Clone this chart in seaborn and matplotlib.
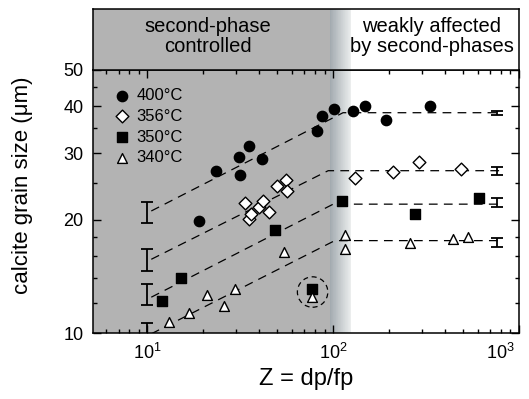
import matplotlib
matplotlib.use('Agg')
import matplotlib.pyplot as plt
import matplotlib.transforms as mtransforms
import seaborn as sns
import numpy as np
from matplotlib.ticker import FixedLocator, FuncFormatter, NullFormatter, LogLocator

# data (Z = dp/fp, grain size in micron)
z_400 = [19.0, 23.3, 31.3, 31.7, 35.2, 41.2, 81.4, 87.3, 101.6, 127.9, 147.7, 191.9, 331.0]
d_400 = [19.9, 27.0, 29.4, 26.3, 31.4, 29.0, 34.4, 37.8, 39.5, 38.9, 40.2, 36.9, 40.2]

z_356 = [33.6, 35.3, 36.2, 39.7, 41.7, 44.9, 49.8, 55.6, 56.4, 130.6, 209.4, 290.8, 489.5]
d_356 = [22.2, 20.1, 20.7, 21.6, 22.4, 21.0, 24.6, 25.5, 23.9, 25.8, 26.8, 28.4, 27.3]

z_350 = [12.0, 15.1, 48.4, 77.4, 111.7, 276.7, 611.0]
d_350 = [12.2, 14.0, 18.8, 13.1, 22.4, 20.7, 22.8]

z_340 = [13.0, 16.8, 21.0, 26.0, 29.8, 54.7, 77.4, 115.5, 115.5, 258.8, 443.6, 531.7]
d_340 = [10.7, 11.3, 12.6, 11.8, 13.1, 16.4, 12.5, 18.2, 16.7, 17.3, 17.8, 18.0]

labels = ['400°C', '356°C', '350°C', '340°C']

# dashed fits: start, knee, end of the plateau
fit_start_z = 10.5
fit_end_z = 800
fit_start_d = [21.1, 15.7, 12.45, 9.95]
fit_knee_z = [113, 94, 100, 102]
fit_plateau_d = [38.5, 27.0, 22.0, 17.6]

# error bars at Z = 10 and at the plateau end
err_left_z = 10
err_left_d = [20.95, 15.65, 12.7, 9.9]
err_left_e = [1.35, 1.05, 0.8, 0.75]
err_right_z = 760
err_right_d = [38.4, 26.95, 22.2, 17.4]
err_right_e = [0.5, 0.65, 0.6, 0.45]

# circled outlier
circle_z = [77.5]
circle_d = [12.85]

# zones
zone_gray_end = 96
zone_white_start = 125

sns.set_style("ticks")
plt.rcParams['font.family'] = ['Liberation Sans', 'DejaVu Sans']
plt.rcParams['mathtext.fontset'] = 'custom'
plt.rcParams['mathtext.rm'] = 'Liberation Sans'
for key in ['text.color', 'axes.labelcolor', 'xtick.color', 'ytick.color']:
    plt.rcParams[key] = 'black'

W, H = 529, 399
fig = plt.figure(figsize=(W / 100, H / 100), dpi=100)
left, right, top, bottom = 93, 519, 70, 333
ax = fig.add_axes([left / W, (H - bottom) / H, (right - left) / W, (bottom - top) / H])
hdr = fig.add_axes([left / W, (H - top) / H, (right - left) / W, (top - 9) / H])

xlim = (5.1, 1000)
gray = '#b3b3b3'
c0 = np.array([0.64, 0.67, 0.69])
c1 = np.array([0.92, 0.93, 0.93])
edges = np.geomspace(zone_gray_end, zone_white_start, 31)


def shade(a):
    a.set_xscale('log')
    a.set_xlim(*xlim)
    a.axvspan(xlim[0], zone_gray_end, color=gray, lw=0, zorder=0)
    for k in range(len(edges) - 1):
        t = k / (len(edges) - 2)
        a.axvspan(edges[k], edges[k + 1] * 1.001, color=c0 + (c1 - c0) * t, lw=0, zorder=0)
    for s in a.spines.values():
        s.set_color('black')
        s.set_linewidth(1.1)


shade(hdr)
hdr.set_ylim(0, 1)
hdr.set_xticks([])
hdr.set_yticks([])
hdr.minorticks_off()
hdr.text(0.27, 0.55, 'second-phase\ncontrolled', transform=hdr.transAxes,
         ha='center', va='center', fontsize=14.5, linespacing=1.05)
hdr.text(0.795, 0.55, 'weakly affected\nby second-phases', transform=hdr.transAxes,
         ha='center', va='center', fontsize=14.5, linespacing=1.05)

shade(ax)
ax.set_yscale('log')
ax.set_ylim(10, 50)

# fitted dashed lines
for i in range(4):
    ax.plot([fit_start_z, fit_knee_z[i], fit_end_z],
            [fit_start_d[i], fit_plateau_d[i], fit_plateau_d[i]],
            ls=(0, (7, 5)), color='black', lw=0.9, zorder=2)

ax.errorbar([err_left_z] * 4, err_left_d, yerr=err_left_e, fmt='none',
            ecolor='black', elinewidth=1.3, capsize=4.5, capthick=1.3, zorder=3)
ax.errorbar([err_right_z] * 4, err_right_d, yerr=err_right_e, fmt='none',
            ecolor='black', elinewidth=1.3, capsize=4.5, capthick=1.3, zorder=3)

series = [
    (z_400, d_400, 'o', 'black', 55),
    (z_356, d_356, 'D', 'white', 42),
    (z_350, d_350, 's', 'black', 50),
    (z_340, d_340, '^', 'white', 50),
]
for (z, d, mk, face, size), lab in zip(series, labels):
    sns.scatterplot(x=z, y=d, marker=mk, color=face, edgecolor='black',
                    linewidth=1.0, s=size, label=lab, ax=ax, zorder=4)

ax.scatter(circle_z, circle_d, s=480, facecolors='none', edgecolors='black',
           linewidths=0.9, linestyle=(0, (4, 3)), zorder=3)

leg = ax.legend(loc='upper left', bbox_to_anchor=(0.02, 0.97), frameon=False,
                fontsize=12, handletextpad=0.3, labelspacing=0.35,
                handlelength=1.2, borderaxespad=0.2)

# ticks
ax.xaxis.set_major_locator(FixedLocator([10, 100, 1000]))
ax.xaxis.set_major_formatter(FuncFormatter(lambda v, p: r'$\mathrm{10^{%d}}$' % round(np.log10(v))))
ax.xaxis.set_minor_locator(LogLocator(base=10, subs=np.arange(2, 10)))
ax.xaxis.set_minor_formatter(NullFormatter())
ax.yaxis.set_major_locator(FixedLocator([10, 20, 30, 40, 50]))
ax.yaxis.set_major_formatter(FuncFormatter(lambda v, p: '%d' % v))
ax.yaxis.set_minor_locator(FixedLocator([12, 14, 16, 18, 25, 35, 45]))
ax.yaxis.set_minor_formatter(NullFormatter())
ax.tick_params(which='both', direction='in', top=True, right=True, labelsize=13,
               color='black', width=1.0)
ax.tick_params(which='major', length=6, pad=7)
ax.tick_params(which='minor', length=3)

# last x label pulled inside the figure, as in the original
last = ax.xaxis.get_major_ticks()[-1].label1
last.set_horizontalalignment('right')
last.set_transform(last.get_transform() + mtransforms.ScaledTranslation(-3 / 72, 0, fig.dpi_scale_trans))

ax.set_xlabel('Z = dp/fp', fontsize=17, labelpad=4)
ax.set_ylabel('calcite grain size (μm)', fontsize=16)
ax.yaxis.set_label_coords(-0.14, 0.56)

fig.savefig('out.png', dpi=100)
